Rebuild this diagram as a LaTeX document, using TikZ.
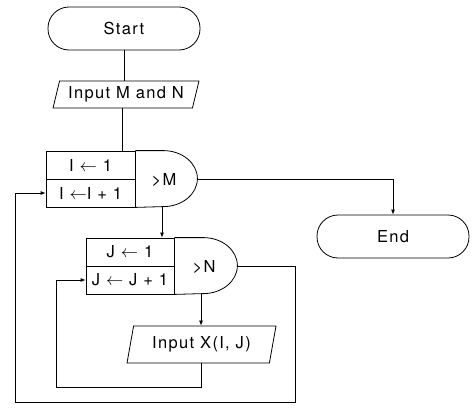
\documentclass[tikz,border=0pt]{standalone}
\usepackage{fontspec}
\setmainfont{TeX Gyre Heros}[LetterSpace=8]
\usetikzlibrary{shapes.geometric,arrows.meta}
\begin{document}
\begin{tikzpicture}[x=1pt,y=-1pt,line width=0.8pt,
  every node/.style={font=\fontsize{16.5}{18}\selectfont},
  term/.style={draw,rectangle,rounded corners=21pt,minimum width=152pt,minimum height=43pt,inner sep=0pt},
  io/.style={draw,trapezium,trapezium stretches=true,inner sep=0pt},
  cell/.style={draw,rectangle,minimum width=89pt,minimum height=28pt,inner sep=0pt},
  arr/.style={-{Latex[length=5pt,width=4pt]}},
  lbl/.style={inner sep=0pt}]
\useasboundingbox (0,0) rectangle (476,412);
% Start and input
\node[term] (start) at (124,28.5) {Start};
\node[io,trapezium left angle=70,trapezium right angle=110,minimum width=146pt,minimum height=27pt] (inMN) at (126,94.5) {Input M and N};
\draw (start.south) -- (start.south |- inMN.north);
% I loop box
\node[cell] (I1) at (90.5,165) {I $\leftarrow$ 1};
\node[cell] (I2) at (90.5,193) {I $\leftarrow$I + 1};
\draw (I1.north east) -- ++(28,0) arc[start angle=90,end angle=-90,x radius=34pt,y radius=28pt] -- (I2.south east);
\coordinate (Itip) at (197,179);
\node[lbl] (gtM) at (164,180) {>M};
\draw (inMN.south -| 122,0) -- (I1.north -| 122,0);
% End
\node[term] (end) at (393,236.5) {End};
\draw[arr] (Itip) -| (end.north);
% J loop box
\node[cell,minimum width=88pt] (J1) at (130,252) {J $\leftarrow$ 1};
\node[cell,minimum width=88pt] (J2) at (130,280) {J $\leftarrow$ J + 1};
\draw (J1.north east) -- ++(29,0) arc[start angle=90,end angle=-90,x radius=34pt,y radius=28pt] -- (J2.south east);
\coordinate (Jtip) at (237,266);
\node[lbl] (gtN) at (204,267) {>N};
\coordinate (Ibot) at (162,207);
\draw[arr] (Ibot) -- (Ibot |- J1.north);
% Input X
\node[io,trapezium left angle=73,trapezium right angle=107,minimum width=149pt,minimum height=37pt] (inX) at (201.5,344.5) {Input X(I, J)};
\coordinate (Jbot) at (201,294);
\draw[arr] (Jbot) -- (Jbot |- inX.north);
% inner loop back
\coordinate (innerL) at (56,387);
\draw[arr] (inX.south -| 201,0) |- (innerL) |- (J2.west);
% outer loop back
\coordinate (outerR) at (295,402);
\coordinate (outerL) at (15,402);
\draw[arr] (Jtip) -| (outerR) -- (outerL) |- (I2.west);
\end{tikzpicture}
\end{document}
